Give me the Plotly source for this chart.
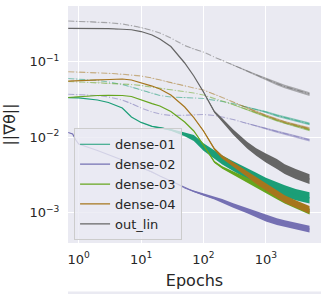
import plotly.graph_objects as go

# ---- data (epochs vs gradient norm) ----
EPOCHS = [0.68, 1, 2, 3, 5, 7, 10, 15, 20, 30, 50, 70, 100, 150, 200, 300,
          500, 700, 1000, 1500, 2000, 3000, 5000]
EPOCHS_D02 = [0.68, 0.8, 0.9, 1, 2, 3, 5, 7, 10, 15, 20, 30, 50, 70, 100, 150,
              200, 300, 500, 700, 1000, 1500, 2000, 3000, 5000]

dense01 = [0.0334, 0.0331, 0.0311, 0.0288, 0.0244, 0.0185, 0.0157, 0.0139, 0.0134, 0.0125,
           0.0109, 0.00976, 0.00742, 0.00581, 0.00499, 0.00415, 0.00326, 0.00284, 0.00244,
           0.00212, 0.00194, 0.00174, 0.00157]
dense02 = [0.01153, 0.01102, 0.00918, 0.00813, 0.00667, 0.00590, 0.00499, 0.00449, 0.00397,
           0.00346, 0.00306, 0.00263, 0.00212, 0.00191, 0.00174, 0.00157, 0.00143, 0.00125,
           0.00107, 0.000961, 0.000851, 0.000764, 0.000719, 0.000667, 0.000608]
dense03 = [0.0336, 0.0346, 0.0357, 0.0359, 0.0357, 0.0346, 0.0311, 0.0279, 0.0259, 0.0219,
           0.0159, 0.0121, 0.00788, 0.00470, 0.00397, 0.00336, 0.00271, 0.00233, 0.00200,
           0.00166, 0.00145, 0.00125, 0.00104]
dense04 = [0.0555, 0.0564, 0.0581, 0.0590, 0.0590, 0.0573, 0.0531, 0.0476, 0.0435, 0.0362,
           0.0251, 0.0182, 0.0121, 0.00698, 0.00547, 0.00435, 0.00326, 0.00267, 0.00219,
           0.00177, 0.00152, 0.00130, 0.00109]
out_lin = [0.277, 0.277, 0.275, 0.274, 0.269, 0.265, 0.251, 0.226, 0.200, 0.159, 0.0962,
           0.0647, 0.0397, 0.0216, 0.0169, 0.0117, 0.00788, 0.00637, 0.00531, 0.00442,
           0.00379, 0.00326, 0.00279]

# dash-dot (lighter) companion curves
dense01_dd = [0.0599, 0.0590, 0.0564, 0.0539, 0.0499, 0.0462, 0.0422, 0.0379, 0.0357, 0.0341,
              0.0331, 0.0331, 0.0326, 0.0311, 0.0297, 0.0279, 0.0251, 0.0233, 0.0216, 0.0194,
              0.0182, 0.0167, 0.0150]
dense02_dd = [0.0370, 0.0368, 0.0357, 0.0341, 0.0311, 0.0279, 0.0244, 0.0216, 0.0203, 0.0194,
              0.0194, 0.0197, 0.0200, 0.0194, 0.0185, 0.0172, 0.0152, 0.0141, 0.0130, 0.0119,
              0.0112, 0.0102, 0.00918]
dense03_dd = [0.0547, 0.0539, 0.0530, 0.0522, 0.0507, 0.0499, 0.0484, 0.0462, 0.0449, 0.0428,
              0.0403, 0.0385, 0.0362, 0.0326, 0.0302, 0.0271, 0.0233, 0.0209, 0.0188, 0.0167,
              0.0154, 0.0141, 0.0125]
dense04_dd = [0.0737, 0.0731, 0.0715, 0.0702, 0.0683, 0.0667, 0.0647, 0.0608, 0.0573, 0.0523,
              0.0477, 0.0449, 0.0422, 0.0373, 0.0336, 0.0292, 0.0244, 0.0216, 0.0194, 0.0172,
              0.0159, 0.0145, 0.0130]
out_lin_dd = [0.346, 0.343, 0.336, 0.329, 0.316, 0.302, 0.284, 0.259, 0.240, 0.206, 0.164,
              0.147, 0.134, 0.115, 0.105, 0.0904, 0.0753, 0.0667, 0.0590, 0.0514, 0.0470,
              0.0422, 0.0373]

# half-width of the noisy band (in decades)
spread01 = [0, 0, 0, 0, 0, 0, 0, 0.003, 0.006, 0.012, 0.025, 0.04, 0.05, 0.055, 0.06, 0.065,
            0.07, 0.075, 0.075, 0.075, 0.075, 0.075, 0.075]
spread02 = [0, 0, 0, 0, 0, 0, 0, 0, 0, 0, 0, 0, 0.006, 0.012, 0.016, 0.02, 0.025, 0.03, 0.035,
            0.04, 0.045, 0.045, 0.045, 0.045, 0.045]
spread03 = [0, 0, 0, 0, 0, 0, 0, 0, 0, 0, 0, 0, 0.006, 0.012, 0.018, 0.025, 0.03, 0.035, 0.04,
            0.04, 0.04, 0.04, 0.04]
spread04 = [0, 0, 0, 0, 0, 0, 0, 0, 0, 0, 0, 0, 0.008, 0.015, 0.022, 0.03, 0.04, 0.045, 0.05,
            0.05, 0.05, 0.05, 0.05]
spread_out = [0, 0, 0, 0, 0, 0, 0, 0, 0, 0, 0, 0, 0.008, 0.015, 0.025, 0.035, 0.045, 0.05,
              0.06, 0.065, 0.065, 0.065, 0.065]
spread_dd = [0, 0, 0, 0, 0, 0, 0, 0, 0, 0, 0, 0, 0, 0, 0, 0, 0.006, 0.01, 0.012, 0.015,
             0.015, 0.018, 0.018]
spread_out_dd = [0, 0, 0, 0, 0, 0, 0, 0, 0, 0, 0, 0, 0, 0, 0, 0.006, 0.01, 0.014, 0.018,
                 0.022, 0.022, 0.025, 0.025]

LABELS = ["dense-01", "dense-02", "dense-03", "dense-04", "out_lin"]
COLORS = ["#1b9e77", "#7570b3", "#66a61e", "#a6761d", "#666666"]
COLORS_DD = ["rgba(27,158,119,0.5)", "rgba(117,112,179,0.5)", "rgba(102,166,30,0.5)",
             "rgba(166,118,29,0.5)", "rgba(102,102,102,0.5)"]

X_TICKS = [1, 10, 100, 1000]
X_TICKTEXT = ["10<sup>0</sup>", "10<sup>1</sup>", "10<sup>2</sup>", "10<sup>3</sup>"]
Y_TICKS = [0.001, 0.01, 0.1]
Y_TICKTEXT = ["10<sup>−3</sup>", "10<sup>−2</sup>", "10<sup>−1</sup>"]

solid = [(EPOCHS, dense01, spread01), (EPOCHS_D02, dense02, spread02),
         (EPOCHS, dense03, spread03), (EPOCHS, dense04, spread04),
         (EPOCHS, out_lin, spread_out)]
dashed = [(EPOCHS, dense01_dd, spread_dd), (EPOCHS, dense02_dd, spread_dd),
          (EPOCHS, dense03_dd, spread_dd), (EPOCHS, dense04_dd, spread_dd),
          (EPOCHS, out_lin_dd, spread_out_dd)]

fig = go.Figure()


def band(xs, ys, sp, color):
    hi = [y * 10 ** s for y, s in zip(ys, sp)]
    lo = [y / 10 ** s for y, s in zip(ys, sp)]
    fig.add_trace(go.Scatter(x=list(xs) + list(xs)[::-1], y=hi + lo[::-1],
                             fill="toself", fillcolor=color, mode="lines",
                             line=dict(width=0), hoverinfo="skip", showlegend=False))


for i in range(5):
    xs, ys, sp = dashed[i]
    band(xs, ys, sp, COLORS_DD[i])
    fig.add_trace(go.Scatter(x=xs, y=ys, mode="lines", showlegend=False,
                             line=dict(color=COLORS_DD[i], width=1.1, dash="6px,2px,1px,2px")))
    xs, ys, sp = solid[i]
    band(xs, ys, sp, COLORS[i])
    fig.add_trace(go.Scatter(x=xs, y=ys, mode="lines", name=LABELS[i],
                             line=dict(color=COLORS[i], width=1.2)))

fig.update_layout(
    width=327, height=294,
    margin=dict(l=68, r=6, t=6, b=51),
    paper_bgcolor="white", plot_bgcolor="#EAEAF2",
    font=dict(family="DejaVu Sans", size=13, color="#262626"),
    showlegend=True,
    legend=dict(x=0.024, y=0.484, xanchor="left", yanchor="top",
                bgcolor="rgba(234,234,242,0.8)", bordercolor="#cccccc", borderwidth=1,
                font=dict(size=13, color="#262626"), itemwidth=30, tracegroupgap=0),
    xaxis=dict(type="log", range=[-0.171, 3.883], tickvals=X_TICKS, ticktext=X_TICKTEXT,
               showgrid=True, gridcolor="white", gridwidth=1, zeroline=False,
               ticks="outside", ticklen=4, tickcolor="rgba(0,0,0,0)", automargin=False,
               title=dict(text="Epochs", standoff=9)),
    yaxis=dict(type="log", range=[-3.401, -0.262], tickvals=Y_TICKS, ticktext=Y_TICKTEXT,
               showgrid=True, gridcolor="white", gridwidth=1, zeroline=False,
               ticks="outside", ticklen=5, tickcolor="rgba(0,0,0,0)", automargin=False,
               title=dict(text="||∇θ||", standoff=10)),
    shapes=[dict(type="rect", xref="paper", yref="paper", x0=0, x1=1,
                 y0=(243 - 296) / 237, y1=(243 - 291.5) / 237,
                 fillcolor="#EAEAF2", line=dict(width=0), layer="below")],
)

fig.write_html("out.html", config={"displayModeBar": False},
               post_script="document.body.style.margin='0';")
